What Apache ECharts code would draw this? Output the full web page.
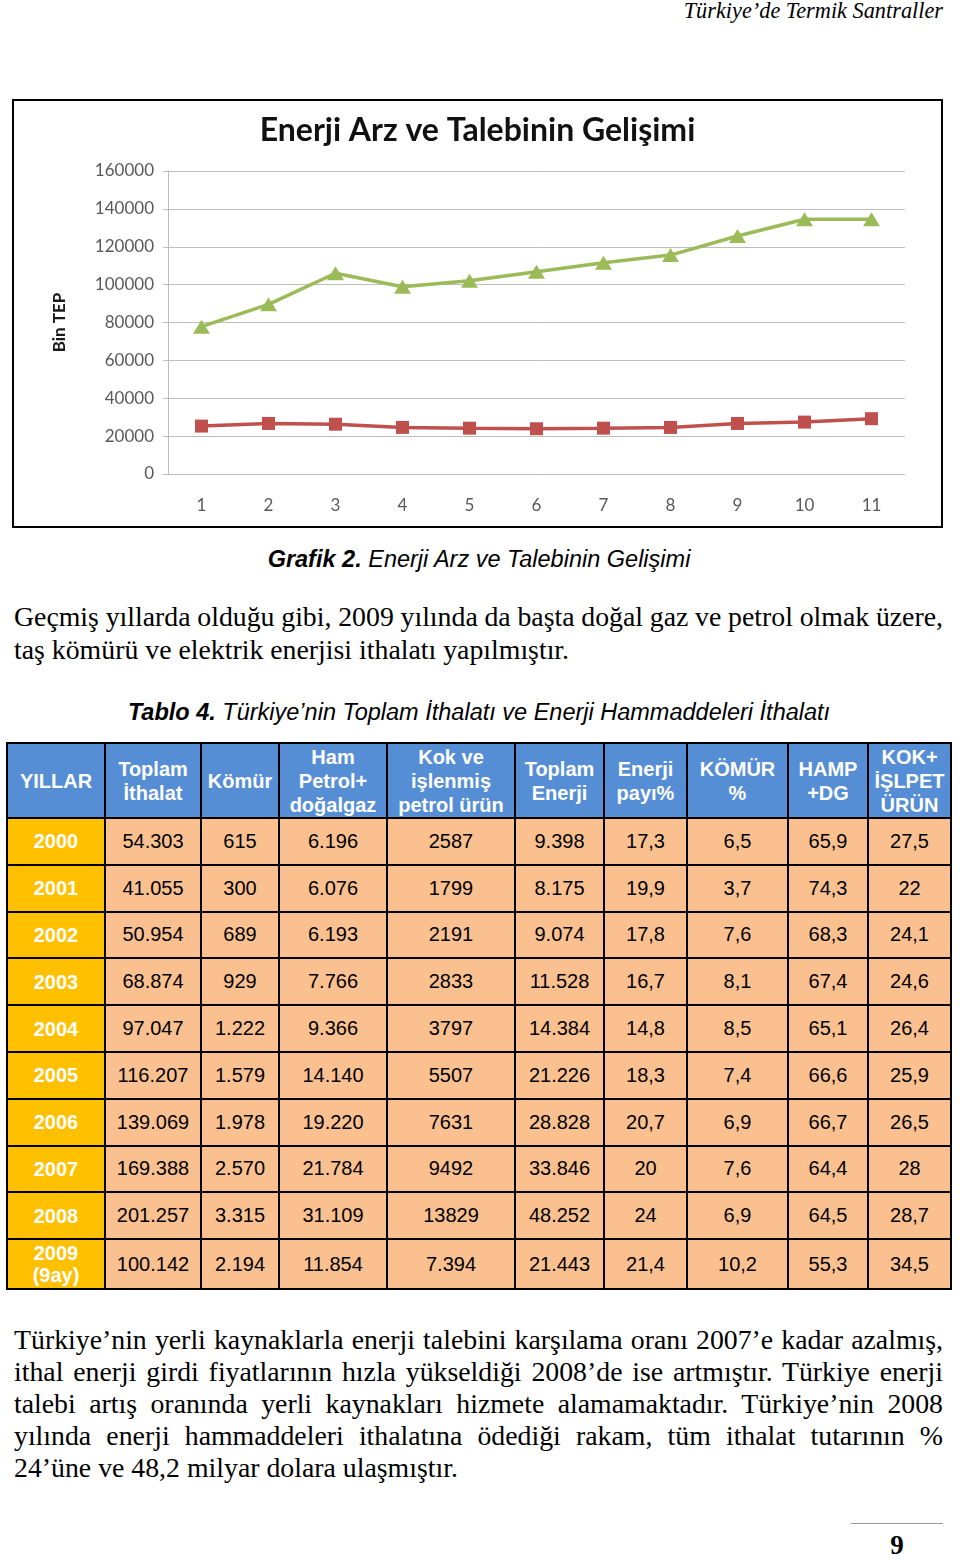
<!DOCTYPE html>
<html>
<head>
    <meta charset="utf-8"/>
    <title>Enerji Arz ve Talebinin Gelişimi</title>
    <script src="https://cdn.jsdelivr.net/npm/echarts@6/dist/echarts.min.js"></script>
    <style>
        body { margin: 0; background: #fff; width: 960px; height: 1560px; position: relative; overflow: hidden; }
        .abs { position: absolute; }
        .serif { font-family: "Liberation Serif", "DejaVu Serif", serif; color: #000; }
        .sans { font-family: "Liberation Sans", Arial, sans-serif; color: #000; }
        #pageHead { right: 17px; top: -1px; font-size: 22.3px; line-height: 24px; font-style: italic; }
        #chartBox { left: 12px; top: 99px; width: 931px; height: 429px; border: 2px solid #000; box-sizing: border-box; }
        #chart { width: 927px; height: 425px; }
        .cap { left: 0; width: 958px; text-align: center; font-size: 23.5px; font-style: italic; line-height: 26px; }
        .cap b { font-weight: bold; }
        .para { left: 14px; width: 929px; font-size: 27.8px; }
        .para div { text-align: justify; text-align-last: justify; white-space: nowrap; }
        .para div.last { text-align-last: left; }
        .para div.tight { word-spacing: -2px; }
        #tbl { left: 6px; top: 742px; width: 944px; border-collapse: collapse; table-layout: fixed; }
        #tbl td { border: 2px solid #000; text-align: center; padding: 0; font-family: "Liberation Sans", Arial, sans-serif; font-size: 20px; }
        #tbl tr.head td { background: #558ed5; color: #fff; font-weight: bold; line-height: 24px; height: 73px; }
        #tbl td.yr { background: #ffc000; color: #fff; font-weight: bold; line-height: 22px; }
        #tbl td.val { background: #fac090; color: #000; }
        #tbl tr.row td { height: 44.8px; }
        #tbl tr.row.lastrow td { height: 48px; }
        #footLine { left: 851px; top: 1523px; width: 92px; height: 0; border-top: 1px solid #999; }
        #pageNo { left: 877px; top: 1529px; width: 40px; text-align: center; font-size: 27px; font-weight: bold; line-height: 32px; }
    </style>
</head>
<body>
<div id="pageHead" class="abs serif">Türkiye’de Termik Santraller</div>

<div id="chartBox" class="abs"><div id="chart"></div></div>

<div class="abs sans cap" style="top:546px;"><b>Grafik 2.</b> Enerji Arz ve Talebinin Gelişimi</div>

<div class="abs serif para" style="top:600px; line-height:33px;">
    <div class="tight">Geçmiş yıllarda olduğu gibi, 2009 yılında da başta doğal gaz ve petrol olmak üzere,</div>
    <div class="last">taş kömürü ve elektrik enerjisi ithalatı yapılmıştır.</div>
</div>

<div class="abs sans cap" style="top:699px;"><b>Tablo 4.</b> Türkiye’nin Toplam İthalatı ve Enerji Hammaddeleri İthalatı</div>

<table id="tbl" class="abs"></table>

<div class="abs serif para" style="top:1324px; line-height:32px;">
    <div>Türkiye’nin yerli kaynaklarla enerji talebini karşılama oranı 2007’e kadar azalmış,</div>
    <div>ithal enerji girdi fiyatlarının hızla yükseldiği 2008’de ise artmıştır. Türkiye enerji</div>
    <div>talebi artış oranında yerli kaynakları hizmete alamamaktadır. Türkiye’nin 2008</div>
    <div>yılında enerji hammaddeleri ithalatına ödediği rakam, tüm ithalat tutarının %</div>
    <div class="last">24’üne ve 48,2 milyar dolara ulaşmıştır.</div>
</div>

<div id="footLine" class="abs"></div>
<div id="pageNo" class="abs serif">9</div>

<script type="text/javascript">
    // grafik verisi (Bin TEP), resimden okunmuş tahmini degerler
    var xLabels = ['1', '2', '3', '4', '5', '6', '7', '8', '9', '10', '11'];
    var arzSerisi = [77800, 89600, 106000, 98900, 102100, 106800, 111600, 115600, 125700, 134500, 134500];
    var talepSerisi = [25300, 26700, 26300, 24600, 24200, 23900, 24200, 24600, 26700, 27400, 29200];

    // tablo verisi
    var basliklar = ['YILLAR', 'Toplam<br>İthalat', 'Kömür', 'Ham<br>Petrol+<br>doğalgaz', 'Kok ve<br>işlenmiş<br>petrol ürün',
        'Toplam<br>Enerji', 'Enerji<br>payı%', 'KÖMÜR<br>%', 'HAMP<br>+DG', 'KOK+<br>İŞLPET<br>ÜRÜN'];
    var yillar = ['2000', '2001', '2002', '2003', '2004', '2005', '2006', '2007', '2008', '2009<br>(9ay)'];
    var toplamIthalat = ['54.303', '41.055', '50.954', '68.874', '97.047', '116.207', '139.069', '169.388', '201.257', '100.142'];
    var komur = ['615', '300', '689', '929', '1.222', '1.579', '1.978', '2.570', '3.315', '2.194'];
    var hamPetrol = ['6.196', '6.076', '6.193', '7.766', '9.366', '14.140', '19.220', '21.784', '31.109', '11.854'];
    var kokPetrol = ['2587', '1799', '2191', '2833', '3797', '5507', '7631', '9492', '13829', '7.394'];
    var toplamEnerji = ['9.398', '8.175', '9.074', '11.528', '14.384', '21.226', '28.828', '33.846', '48.252', '21.443'];
    var enerjiPayi = ['17,3', '19,9', '17,8', '16,7', '14,8', '18,3', '20,7', '20', '24', '21,4'];
    var komurYuzde = ['6,5', '3,7', '7,6', '8,1', '8,5', '7,4', '6,9', '7,6', '6,9', '10,2'];
    var hampDg = ['65,9', '74,3', '68,3', '67,4', '65,1', '66,6', '66,7', '64,4', '64,5', '55,3'];
    var kokIslpet = ['27,5', '22', '24,1', '24,6', '26,4', '25,9', '26,5', '28', '28,7', '34,5'];
    var sutunGenislik = [98, 96, 78, 108, 128, 89, 83, 101, 80, 83];

    var kolonlar = [toplamIthalat, komur, hamPetrol, kokPetrol, toplamEnerji, enerjiPayi, komurYuzde, hampDg, kokIslpet];
    var html = '<colgroup>';
    for (var c = 0; c < sutunGenislik.length; c++) {
        html += '<col style="width:' + sutunGenislik[c] + 'px">';
    }
    html += '</colgroup><tr class="head">';
    for (var h = 0; h < basliklar.length; h++) {
        html += '<td>' + basliklar[h] + '</td>';
    }
    html += '</tr>';
    for (var i = 0; i < yillar.length; i++) {
        html += '<tr class="row' + (i === yillar.length - 1 ? ' lastrow' : '') + '"><td class="yr">' + yillar[i] + '</td>';
        for (var k = 0; k < kolonlar.length; k++) {
            html += '<td class="val">' + kolonlar[k][i] + '</td>';
        }
        html += '</tr>';
    }
    document.getElementById('tbl').innerHTML = html;

    var dom = document.getElementById("chart");
    var myChart = echarts.init(dom);
    var option = {
        animation: false,
        backgroundColor: '#fff',
        title: {
            text: 'Enerji Arz ve Talebinin Gelişimi',
            left: 'center',
            top: 9,
            textStyle: {
                fontFamily: 'Lato',
                fontWeight: 'bold',
                fontSize: 32,
                color: '#111'
            }
        },
        grid: {
            left: 154,
            right: 36,
            top: 70,
            bottom: 52
        },
        xAxis: {
            type: 'category',
            data: xLabels,
            boundaryGap: true,
            axisLine: { show: false },
            axisTick: { show: false },
            axisLabel: {
                margin: 23,
                fontFamily: 'Lato',
                fontSize: 17,
                color: '#595959'
            }
        },
        yAxis: {
            type: 'value',
            min: 0,
            max: 160000,
            interval: 20000,
            name: 'Bin TEP',
            nameLocation: 'middle',
            nameGap: 100,
            nameRotate: 90,
            nameTextStyle: {
                fontFamily: 'Lato',
                fontWeight: 'bold',
                fontSize: 17,
                color: '#1a1a1a'
            },
            axisLine: { show: true, lineStyle: { color: '#bdbdbd', width: 1 } },
            axisTick: { show: true, length: 5, lineStyle: { color: '#bdbdbd' } },
            splitLine: { lineStyle: { color: '#bdbdbd', width: 1 } },
            axisLabel: {
                margin: 14,
                fontFamily: 'Lato',
                fontSize: 17,
                color: '#595959',
                formatter: function (v) { return String(v); }
            }
        },
        series: [
            {
                name: 'Arz',
                type: 'line',
                data: arzSerisi,
                symbol: 'triangle',
                symbolSize: [17, 14],
                itemStyle: { color: '#9bbb59' },
                lineStyle: { color: '#9bbb59', width: 3.5 }
            },
            {
                name: 'Talep',
                type: 'line',
                data: talepSerisi,
                symbol: 'rect',
                symbolSize: 13,
                itemStyle: { color: '#c0504d' },
                lineStyle: { color: '#c0504d', width: 3.5 }
            }
        ]
    };

    if (option && typeof option === "object") {
        myChart.setOption(option, true);
    }
</script>
</body>
</html>
